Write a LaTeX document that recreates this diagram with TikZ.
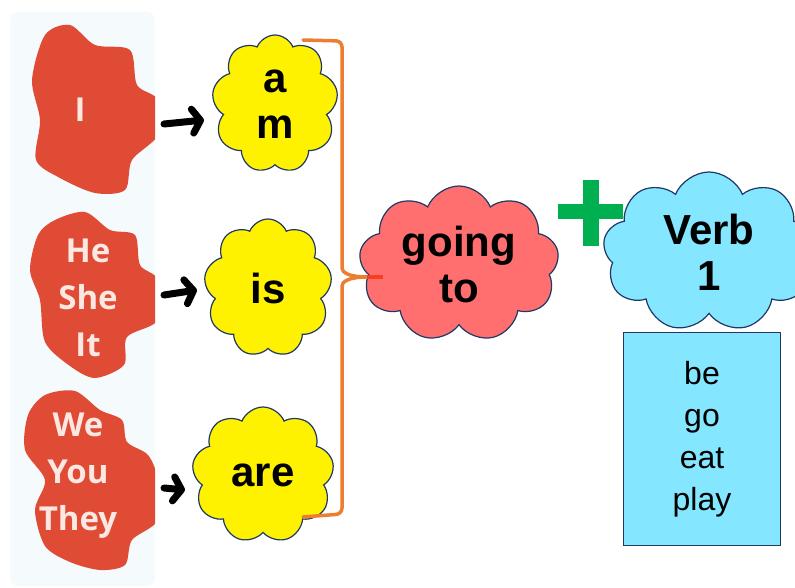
\documentclass[tikz,border=0pt]{standalone}
\usepackage{fontspec}
\setmainfont{Liberation Sans}
\newfontfamily\blobfont{Open Sans}
\usetikzlibrary{shapes.symbols,arrows.meta}
\definecolor{panel}{HTML}{F5FAFC}
\definecolor{blobred}{HTML}{E04B35}
\definecolor{pronountext}{HTML}{FBE8E2}
\definecolor{puffline}{HTML}{1F3864}
\definecolor{goingred}{HTML}{FF6F6F}
\definecolor{verbblue}{HTML}{84E6FF}
\definecolor{braceorange}{HTML}{ED7D31}
\definecolor{tipred}{HTML}{F4401E}
\definecolor{plusgreen}{HTML}{00B050}
\tikzset{>=stealth,
  puff/.style={cloud, cloud puffs=9, cloud puff arc=135, cloud ignores aspect,
    draw=puffline, line width=1.2pt, inner sep=0pt, align=center,
    font=\fontsize{42}{46}\selectfont\bfseries},
  pronoun/.style={text=pronountext, align=center,
    font=\blobfont\fontsize{33}{47}\selectfont\bfseries},
  hookarrow/.style={line width=7pt, line cap=round,
    -{Straight Barb[length=8pt,width=24pt,round]}},
  brace/.style={braceorange, line width=3.5pt, line cap=round, rounded corners=6pt},
}

\begin{document}
\begin{tikzpicture}[x=1pt,y=-1pt]

  \useasboundingbox (0,0) rectangle (795,588);

  % pronoun panel
  \fill[panel, rounded corners=8pt] (10,12) rectangle (155,586);
  \begin{scope}
    \clip (0,0) rectangle (155,588);
    \fill[blobred] plot[smooth cycle] coordinates {(45,35) (70,25) (95,45) (130,50) (137,85)
      (158,100) (158,135) (132,160) (125,190) (95,193) (60,178) (36,160) (40,120) (32,80)};
    \fill[blobred] plot[smooth cycle] coordinates {(55,220) (85,212) (110,230) (135,235) (140,265)
      (158,280) (158,320) (127,337) (124,365) (95,378) (70,366) (45,342) (40,300) (30,270) (38,235)};
    \fill[blobred] plot[smooth cycle] coordinates {(45,395) (75,391) (100,410) (122,420) (127,442)
      (148,455) (158,480) (158,520) (132,540) (125,565) (100,570) (70,562) (45,546) (35,510)
      (45,480) (25,450) (28,415)};
  \end{scope}
  \node[pronoun] (p1) at (80,110) {I};
  \node[pronoun] (p2) at (88,298) {He\\She\\It};
  \node[pronoun] (p3) at (78,476) {We\\You\\They};

  % be-verbs
  \node[puff, fill=yellow, minimum width=126pt, minimum height=138pt] (am) at (275,104) {a\\m};
  \node[puff, fill=yellow, minimum width=128pt, minimum height=138pt] (is) at (268,288) {is};
  \node[puff, fill=yellow, minimum width=142pt, minimum height=136pt] (are) at (263,475) {are};

  \coordinate (s1) at (164,124);
  \coordinate (e1) at (204,120);
  \coordinate (s2) at (164,295);
  \coordinate (e2) at (197,290);
  \coordinate (s3) at (164,488);
  \coordinate (e3) at (185,490);
  \draw[hookarrow] (s1) -- (e1);
  \draw[hookarrow] (s2) -- (e2);
  \draw[hookarrow] (s3) -- (e3);

  \node[puff, fill=goingred, minimum width=200pt, minimum height=156pt] (going) at (459,264) {going\\to};

  % brace
  \coordinate (tip) at (367,277);
  \draw[brace] (303,40) -- (342,41) -- (342,262) .. controls (342,272) and (348,277) .. (tip);
  \draw[brace] (tip) .. controls (348,277) and (342,282) .. (342,292) -- (342,514) -- (303,517);
  \draw[tipred, line width=3.5pt] (tip) -- ++(16,0);

  % plus
  \fill[plusgreen] (558,204) rectangle (623,219);
  \fill[plusgreen] (583,180) rectangle (599,246);

  \node[puff, fill=verbblue, minimum width=212pt, minimum height=160pt] (verb) at (709,252) {Verb\\1};

  \node[draw=puffline, fill=verbblue, line width=1.2pt, minimum width=157pt, minimum height=213pt,
    align=center, font=\fontsize{32}{42}\selectfont] (list) at (702,439) {be\\go\\eat\\play};

\end{tikzpicture}
\end{document}
